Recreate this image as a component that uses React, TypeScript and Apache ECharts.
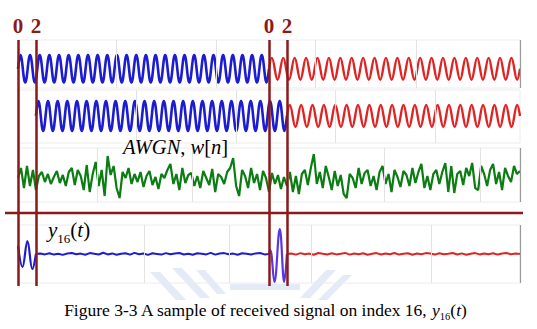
import React, { useEffect, useRef } from "react";
import * as echarts from "echarts";

// ---- time spans (symbol units) ----
const T_MAX = 56;
const spanBlue1 = [0, 28];
const spanRed1 = [28, 56];
const spanBlue2 = [2, 30];
const spanRed2 = [30, 56];

// ---- extrema of the sinusoids ----
const bluePeaks1 = [
  1, -1, 1, -1, 1, -1, 1, -1, 1, -1, 1, -1, 1, -1, 1, -1, 1, -1, 1, -1,
  1, -1, 1, -1, 1, -1, 1, -1, 1, -1, 1, -1, 1, -1, 1, -1, 1, -1, 1, -1,
  1, -1, 1, -1, 1, -1, 1, -1, 1, -1, 1, -1,
];
const redPeaks1 = [
  0.8, -0.8, 0.8, -0.8, 0.8, -0.8, 0.8, -0.8, 0.8, -0.8, 0.8, -0.8, 0.8, -0.8, 0.8, -0.8,
  0.8, -0.8, 0.8, -0.8, 0.8, -0.8, 0.8, -0.8, 0.8, -0.8, 0.8, -0.8, 0.8, -0.8, 0.8, -0.8,
  0.8, -0.8, 0.8, -0.8, 0.8, -0.8, 0.8, -0.8, 0.8, -0.8, 0.8, -0.8,
];
const bluePeaks2 = [
  1, -1, 1, -1, 1, -1, 1, -1, 1, -1, 1, -1, 1, -1, 1, -1, 1, -1, 1, -1,
  1, -1, 1, -1, 1, -1, 1, -1, 1, -1, 1, -1, 1, -1, 1, -1, 1, -1, 1, -1,
  1, -1, 1, -1, 1, -1, 1, -1, 1, -1, 1, -1,
];
const redPeaks2 = [
  0.73, -0.73, 0.73, -0.73, 0.73, -0.73, 0.73, -0.73, 0.73, -0.73, 0.73, -0.73, 0.73, -0.73,
  0.73, -0.73, 0.73, -0.73, 0.73, -0.73, 0.73, -0.73, 0.73, -0.73, 0.73, -0.73, 0.73, -0.73,
  0.73, -0.73, 0.73, -0.73, 0.73, -0.73, 0.73, -0.73, 0.73, -0.73, 0.73, -0.73, 0.73,
];

// ---- AWGN samples (step 1/3 unit) ----
const greenStep = 1 / 3;
const greenNoise = [
  2, 12, -8, 14, -6, 10, -10, 4, 8, -2,
  6, -4, 3, 9, -3, 5, -6, 8, 12, -5,
  10, 4, -10, 15, -12, 6, 18, -6, 10, -16,
  24, 5, 14, -8, -18, 8, 2, 12, -4, 6,
  -2, 8, -7, 4, 9, -5, 3, -9, 6, 2,
  10, 16, -4, 6, -10, 12, -3, 5, 7, -6,
  4, -8, 9, 2, -5, 11, -12, 6, 3, -4,
  8, 12, 22, -6, -16, 10, 4, -8, 12, -3,
  6, -10, 9, 2, -12, 7, -4, 5, -9, 3,
  -6, 8, -12, 4, -14, 6, 10, -5, 12, 26,
  -4, 8, -8, 14, 3, -10, 9, -6, 5, -14,
  -18, 6, 2, -8, 12, -4, 7, 10, -6, 4,
  -10, 8, 14, -4, 6, -12, 10, 3, -7, 9,
  5, -6, 12, -3, 8, 16, -8, 4, -10, 6,
  10, -4, 8, 17, -12, 14, -13, 6, 9, -5,
  12, 4, 17, -8, -10, 14, 6, -6, 10, 16,
  -4, 8, -10, 12, 4, -2, 14, 6, 9,
];

// ---- received signal y16(t) ----
const p4BlueWaveT = [0, 0.5, 1.05, 1.6, 2];
const p4BlueWaveV = [8, -13, 13, -15, 0];
const p4PurpleWaveT = [28, 28.15, 28.6, 29.2, 29.7, 30];
const p4PurpleWaveV = [0, 4, -28, 25, -28, 0];
const flatStep = 0.5;
const blueFlatStart = 2;
const blueFlat = [
  0, 0.6, -0.4, 0.8, -0.6, 0.3, -0.9, 0.5, 1.0, -0.3,
  0.4, -0.7, 0.9, 0.2, -0.5, 1.2, -0.4, 0.6, -0.8, 0.3,
  0.7, -0.6, 1.1, -0.2, 0.5, -0.9, 0.8, 0.1, -0.6, 0.9,
  -0.3, 0.6, 1.0, -0.5, 0.3, -0.8, 0.7, 0.2, -0.4, 1.1,
  -0.6, 0.5, 0.9, -0.3, 0.4, -0.7, 0.8, 0.2, -0.5, 0.6,
  1.0, -0.4, 0,
];
const redFlatStart = 30;
const redFlat = [
  0, 0.5, -0.6, 0.9, -0.3, 0.4, -0.8, 1.0, 0.2, -0.5,
  0.7, -0.4, 0.3, 1.1, -0.6, 0.5, -0.3, 0.8, -0.7, 0.2,
  0.9, -0.5, 0.4, -0.2, 1.0, -0.6, 0.3, 0.7, -0.8, 0.5,
  -0.2, 0.9, 0.4, -0.6, 0.8, -0.3, 0.2, 1.0, -0.5, 0.6,
  -0.7, 0.3, 0.9, -0.4, 0.5, -0.2, 0.8, -0.6, 0.4, 1.0,
  -0.3, 0.5, 0,
];

// ---- annotation marks (symbol boundaries) ----
const boundaryT = [0, 2, 28, 30];
const boundaryLabels = ["0", "2", "0", "2"];

// ---- light background grid positions per panel ----
const gridT1 = [11, 22.1, 33.2, 44.4];
const gridT2 = [13.2, 24.3, 35.4, 46.6];
const gridT3 = [8.8, 19.4, 30.2, 40.9, 51.6];
const gridT4 = [14.1, 23.6, 32.7, 46.1];

function wave(span: number[], peaks: number[]) {
  const [a, b] = span;
  const h = (b - a) / peaks.length;
  return [[a, 0], ...peaks.map((v, k) => [a + (k + 0.5) * h, v]), [b, 0]];
}
function pairs(ts: number[], vs: number[]) {
  return ts.map((t, i) => [t, vs[i]]);
}
function stepped(start: number, step: number, vs: number[]) {
  return vs.map((v, i) => [start + i * step, v]);
}

const DARK_RED = "#8b1a1a";
const BLUE = "#1c1cd0";
const RED = "#e02424";
const GREEN = "#0b7d12";
const SERIF = "'Liberation Serif', 'Times New Roman', serif";

function gridMarks(ts: number[], rightBorder: boolean) {
  const data: any[] = ts.map((t) => ({ xAxis: t }));
  if (rightBorder)
    data.push({ xAxis: T_MAX, lineStyle: { color: "#9a9a9a", width: 1.2, type: "solid" } });
  return {
    silent: true,
    symbol: "none",
    animation: false,
    label: { show: false },
    lineStyle: { color: "#e3e3e3", width: 1, type: "solid" },
    data,
  };
}

export default function App() {
  const ref = useRef<HTMLDivElement>(null);
  useEffect(() => {
    if (!ref.current) return;
    const chart = echarts.init(ref.current, undefined, { renderer: "svg" });
    const gridBase = { left: 18, right: 17, show: true, borderColor: "#ececec", borderWidth: 1 };
    const xa = (i: number) => ({
      gridIndex: i, type: "value", min: 0, max: T_MAX,
      axisLine: { show: false }, axisTick: { show: false }, axisLabel: { show: false }, splitLine: { show: false },
    });
    const ya = (i: number, min: number, max: number) => ({
      gridIndex: i, type: "value", min, max,
      axisLine: { show: false }, axisTick: { show: false }, axisLabel: { show: false }, splitLine: { show: false },
    });
    const lineS = (xi: number, data: any, color: string, width: number, smooth: any, extra: any = {}) => ({
      type: "line", xAxisIndex: xi, yAxisIndex: xi, data, showSymbol: false, symbol: "none",
      smooth, lineStyle: { color, width }, z: 3, silent: true, ...extra,
    });
    const boundaryLabel = (text: string) => ({
      show: true, position: "end", distance: 4, color: DARK_RED, formatter: text,
      fontFamily: SERIF, fontWeight: "bold", fontSize: 21,
    });
    const wm = "#e4ebf7";
    const option: any = {
      animation: false,
      backgroundColor: "#ffffff",
      grid: [
        { ...gridBase, top: 40, height: 48 },
        { ...gridBase, top: 90, height: 53 },
        { ...gridBase, top: 148, height: 54 },
        { ...gridBase, top: 225, height: 58 },
        { left: 18, right: 17, top: 40, height: 246, show: false },
      ],
      xAxis: [xa(0), xa(1), xa(2), xa(3), xa(4)],
      yAxis: [ya(0, -1.4, 2.1), ya(1, -1.8, 1.73), ya(2, -22, 32), ya(3, -29, 29), ya(4, 0, 1)],
      series: [
        lineS(0, wave(spanBlue1, bluePeaks1), BLUE, 2.6, 0.4, { markLine: gridMarks(gridT1, true) }),
        lineS(0, wave(spanRed1, redPeaks1), RED, 2.4, 0.4),
        lineS(1, wave(spanBlue2, bluePeaks2), BLUE, 2.6, 0.4, { markLine: gridMarks(gridT2, false) }),
        lineS(1, wave(spanRed2, redPeaks2), RED, 2.4, 0.4),
        lineS(2, stepped(0, greenStep, greenNoise), GREEN, 2.2, false, { markLine: gridMarks(gridT3, true) }),
        lineS(3, pairs(p4BlueWaveT, p4BlueWaveV), BLUE, 2.2, 0.4, { markLine: gridMarks(gridT4, true) }),
        lineS(3, stepped(blueFlatStart, flatStep, blueFlat), BLUE, 2, false),
        lineS(3, pairs(p4PurpleWaveT, p4PurpleWaveV), "#5a36e0", 2.2, 0.4),
        lineS(3, stepped(redFlatStart, flatStep, redFlat), RED, 2, false),
        {
          type: "line", xAxisIndex: 4, yAxisIndex: 4, data: [], z: 10, silent: true,
          markLine: {
            silent: true, symbol: "none", animation: false,
            lineStyle: { color: DARK_RED, width: 2.5, type: "solid" },
            label: boundaryLabel(""),
            data: boundaryT.map((t, i) => ({ xAxis: t, label: boundaryLabel(boundaryLabels[i]) })),
          },
        },
      ],
      graphic: [
        // faint watermark behind the lower panel
        { type: "polygon", z: -1, silent: true, shape: { points: [[150, 272], [160, 272], [186, 300], [176, 300]] }, style: { fill: wm } },
        { type: "polygon", z: -1, silent: true, shape: { points: [[172, 268], [182, 268], [210, 298], [200, 298]] }, style: { fill: wm } },
        { type: "polygon", z: -1, silent: true, shape: { points: [[196, 270], [205, 270], [226, 294], [217, 294]] }, style: { fill: wm } },
        { type: "polygon", z: -1, silent: true, shape: { points: [[300, 298], [310, 298], [336, 270], [326, 270]] }, style: { fill: wm } },
        { type: "polygon", z: -1, silent: true, shape: { points: [[318, 300], [327, 300], [352, 275], [343, 275]] }, style: { fill: wm } },
        { type: "polygon", z: -1, silent: true, shape: { points: [[230, 284], [300, 284], [300, 290], [230, 290]] }, style: { fill: wm } },
        {
          type: "line", z: 20, silent: true,
          shape: { x1: 5, y1: 213, x2: 523, y2: 213 },
          style: { stroke: DARK_RED, lineWidth: 2.5 },
        },
        {
          type: "text", left: 123, top: 136, z: 20, silent: true,
          style: {
            text: "{i|AWGN}{r|, }{i|w}{r|[}{i|n}{r|]}",
            rich: {
              i: { fontFamily: SERIF, fontStyle: "italic", fontSize: 20.5, color: "#4b524b" },
              r: { fontFamily: SERIF, fontSize: 20.5, color: "#4b524b" },
            },
          },
        },
        {
          type: "text", left: 48, top: 219, z: 20, silent: true,
          style: {
            text: "{i|y}{s|16}{r|(}{i|t}{r|)}",
            rich: {
              i: { fontFamily: SERIF, fontStyle: "italic", fontSize: 21, color: "#7a2d88", verticalAlign: "bottom", padding: [0, 0, 5, 0] },
              s: { fontFamily: SERIF, fontSize: 13, color: "#7a2d88", verticalAlign: "bottom" },
              r: { fontFamily: SERIF, fontSize: 21, color: "#7a2d88", verticalAlign: "bottom", padding: [0, 0, 5, 0] },
            },
          },
        },
        {
          type: "text", x: 265, y: 311, z: 20, silent: true,
          style: {
            text: "{r|Figure 3-3 A sample of received signal on index 16, }{i|y}{s|16}{r|(}{i|t}{r|)}",
            align: "center", verticalAlign: "middle",
            rich: {
              r: { fontFamily: SERIF, fontSize: 17.5, color: "#111", verticalAlign: "bottom", padding: [0, 0, 3, 0] },
              i: { fontFamily: SERIF, fontStyle: "italic", fontSize: 17.5, color: "#111", verticalAlign: "bottom", padding: [0, 0, 3, 0] },
              s: { fontFamily: SERIF, fontSize: 10.5, color: "#111", verticalAlign: "bottom" },
            },
          },
        },
      ],
    };
    chart.setOption(option);
    return () => chart.dispose();
  }, []);
  return <div ref={ref} style={{ width: 537, height: 329, position: "absolute", left: 0, top: 0 }} />;
}
